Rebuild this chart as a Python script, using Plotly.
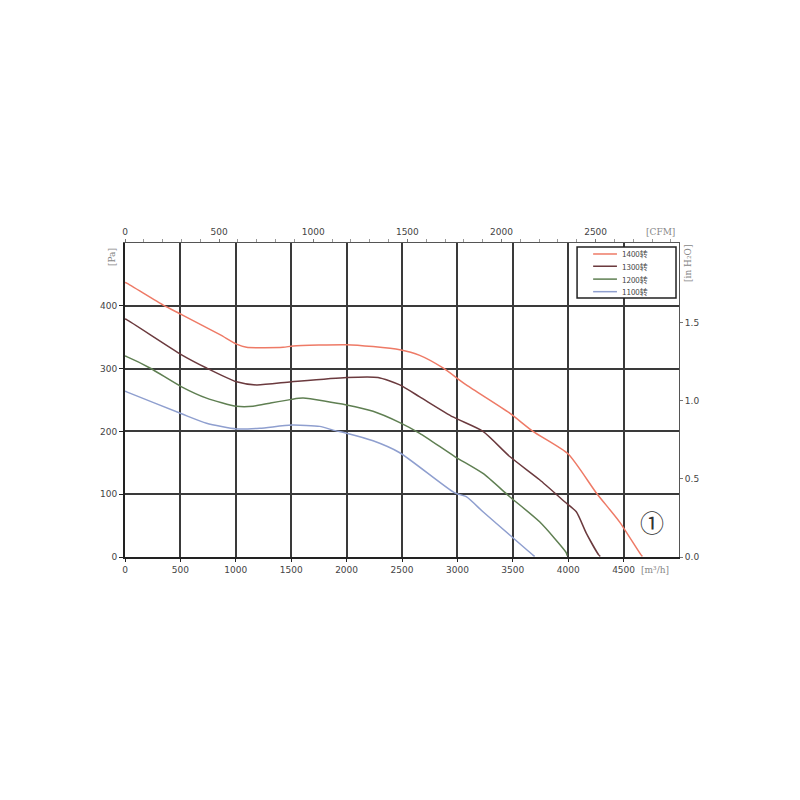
import plotly.graph_objects as go

# ---- data (m³/h vs Pa) ----
labels = ["1400转", "1300转", "1200转", "1100转"]
colors = ["#ee7a66", "#6b3a3e", "#5f7f52", "#8f9fcf"]

x1400 = [0, 15, 345, 511, 857, 1007, 1097, 1427, 1517, 2000, 2239, 2480, 2660, 2870, 3080, 3472, 3682, 4000, 4254, 4463, 4659, 4670]
y1400 = [437, 436, 401, 386, 354, 339, 334, 334, 336, 338, 335, 330, 321, 301, 274, 229, 200, 164, 102, 56, 3, 1]

x1300 = [0, 15, 511, 736, 1007, 1187, 1502, 2000, 2284, 2480, 2660, 2960, 3231, 3472, 3742, 3968, 4073, 4163, 4277, 4290]
y1300 = [379, 378, 322, 301, 279, 274, 279, 286, 286, 274, 255, 223, 200, 160, 123, 88, 72, 38, 3, 1]

x1200 = [0, 15, 225, 511, 736, 1007, 1156, 1307, 1502, 1607, 2000, 2239, 2480, 2660, 2976, 3231, 3472, 3742, 3982, 3990]
y1200 = [320, 319, 301, 271, 253, 240, 240, 245, 251, 253, 242, 232, 214, 197, 160, 133, 96, 56, 7, 2]

x1100 = [0, 15, 511, 736, 1007, 1217, 1502, 1758, 1878, 2000, 2239, 2480, 2976, 3080, 3231, 3472, 3682, 3697]
y1100 = [264, 263, 228, 213, 204, 205, 210, 208, 202, 197, 185, 166, 102, 96, 72, 35, 3, 1]

series_x = [x1400, x1300, x1200, x1100]
series_y = [y1400, y1300, y1200, y1100]

x_ticks = [0, 500, 1000, 1500, 2000, 2500, 3000, 3500, 4000, 4500]
y_ticks = [0, 100, 200, 300, 400]
cfm_ticks = [0, 500, 1000, 1500, 2000, 2500]
inh2o_ticks = [0.0, 0.5, 1.0, 1.5]

X_MAX = 5000
Y_MAX = 500
M3H_PER_CFM = 1.699
PA_PER_INH2O = 249.09

fig = go.Figure()
for name, c, xs, ys in zip(labels, colors, series_x, series_y):
    fig.add_trace(go.Scatter(x=xs, y=ys, mode="lines", name=name, showlegend=False,
                             line=dict(color=c, width=1.5, shape="spline", smoothing=0.6)))

# dummy traces for secondary axes
fig.add_trace(go.Scatter(x=[0], y=[0], xaxis="x2", yaxis="y", mode="markers",
                         marker=dict(opacity=0), showlegend=False, hoverinfo="skip"))
fig.add_trace(go.Scatter(x=[0], y=[0], xaxis="x", yaxis="y2", mode="markers",
                         marker=dict(opacity=0), showlegend=False, hoverinfo="skip"))

tick_font = dict(family="DejaVu Sans", size=9, color="#444")
grid = "#3a3a3a"

fig.update_layout(
    width=784, height=784,
    paper_bgcolor="white", plot_bgcolor="white",
    margin=dict(l=117, r=113, t=235, b=235),
    showlegend=False,
    xaxis=dict(range=[0, X_MAX], tickvals=x_ticks, ticktext=[str(v) for v in x_ticks],
               showgrid=True, gridcolor=grid, gridwidth=2,
               showline=True, linecolor="#222", linewidth=2, mirror=False,
               ticks="outside", ticklen=3, tickcolor="#222",
               tickfont=tick_font, zeroline=False, fixedrange=True),
    yaxis=dict(range=[0, Y_MAX], tickvals=y_ticks, ticktext=[str(v) for v in y_ticks],
               showgrid=True, gridcolor=grid, gridwidth=2,
               showline=True, linecolor="#222", linewidth=2,
               ticks="outside", ticklen=4, tickcolor="#222",
               tickfont=tick_font, zeroline=False, fixedrange=True),
    xaxis2=dict(range=[0, X_MAX / M3H_PER_CFM], overlaying="x", side="top",
                tickvals=cfm_ticks, ticktext=[str(v) for v in cfm_ticks],
                showgrid=False, showline=True, linecolor="#555", linewidth=1,
                ticks="outside", ticklen=3, tickcolor="#777",
                minor=dict(dtick=100, ticks="outside", ticklen=3, tickcolor="#999"),
                tickfont=tick_font, zeroline=False, fixedrange=True),
    yaxis2=dict(range=[0, Y_MAX / PA_PER_INH2O], overlaying="y", side="right",
                tickvals=inh2o_ticks, ticktext=[f"{v:.1f}" for v in inh2o_ticks],
                showgrid=False, showline=True, linecolor="#555", linewidth=1,
                ticks="outside", ticklen=3, tickcolor="#777",
                tickfont=tick_font, zeroline=False, fixedrange=True),
)

# legend box drawn in paper coordinates
fig.add_shape(type="rect", xref="paper", yref="paper", x0=0.816, x1=0.9946, y0=0.825, y1=0.987,
              line=dict(color="#222", width=1.5), fillcolor="white", layer="above")
leg_y = [0.965, 0.926, 0.885, 0.845]
for name, c, yy in zip(labels, colors, leg_y):
    fig.add_shape(type="line", xref="paper", yref="paper", x0=0.845, x1=0.888, y0=yy, y1=yy,
                  line=dict(color=c, width=1.5), layer="above")
    fig.add_annotation(text=name, xref="paper", yref="paper", x=0.8935, y=yy,
                       xanchor="left", yanchor="middle", showarrow=False,
                       font=dict(family="Noto Sans CJK SC", size=8, color="#444"))

lab_font = dict(family="DejaVu Serif", size=9, color="#888")
fig.add_annotation(text="[Pa]", xref="paper", yref="paper", x=-0.0235, y=0.955,
                   showarrow=False, textangle=-90, font=lab_font, xanchor="center", yanchor="middle")
fig.add_annotation(text="[m³/h]", xref="paper", yref="paper", x=0.957, y=-0.041,
                   showarrow=False, font=lab_font, xanchor="center", yanchor="middle")
fig.add_annotation(text="[CFM]", xref="paper", yref="paper", x=0.966, y=1.035,
                   showarrow=False, font=lab_font, xanchor="center", yanchor="middle")
fig.add_annotation(text="[in H₂O]", xref="paper", yref="paper", x=1.016, y=0.936,
                   showarrow=False, textangle=-90, font=lab_font, xanchor="center", yanchor="middle")
fig.add_annotation(text="①", x=4760, y=56, xref="x", yref="y", showarrow=False,
                   font=dict(family="Noto Sans CJK SC", size=24, color="#333"))

fig.write_html("out.html")
